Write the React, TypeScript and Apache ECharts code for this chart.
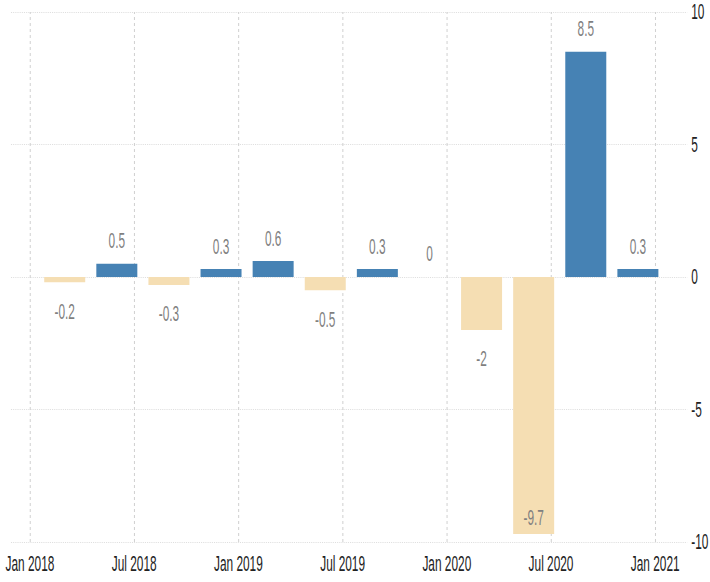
import React, { useEffect, useRef } from "react";
import * as echarts from "echarts";

// Quarterly values (period dates)
const periods = [
  "2018-03", "2018-06", "2018-09", "2018-12",
  "2019-03", "2019-06", "2019-09", "2019-12",
  "2020-03", "2020-06", "2020-09", "2020-12",
];
const values = [-0.2, 0.5, -0.3, 0.3, 0.6, -0.5, 0.3, 0, -2, -9.7, 8.5, 0.3];

// x-axis ticks (months since Jan 2018) and their labels
const tickMonths = [0, 6, 12, 18, 24, 30, 36];
const tickLabels = ["Jan 2018", "Jul 2018", "Jan 2019", "Jul 2019", "Jan 2020", "Jul 2020", "Jan 2021"];

const FINAL_W = 710;
const H = 582;
const W = 1315; // drawn wider, then condensed horizontally
const S = FINAL_W / W;
const px = (x: number) => x / S;

const BLUE = "#4682B4";
const TAN = "#F5DEB3";
const FONT = "'Liberation Sans', Arial, sans-serif";

function monthIndex(p: string) {
  const [y, m] = p.split("-").map(Number);
  return (y - 2018) * 12 + (m - 1);
}

export default function App() {
  const ref = useRef<HTMLDivElement>(null);

  useEffect(() => {
    if (!ref.current) return;
    const chart = echarts.init(ref.current, undefined, { renderer: "svg", width: W, height: H });
    const yMin = -10;
    const data = periods.map((p, i) => {
      const v = values[i];
      const neg = v < 0;
      const nearBottom = v < yMin + 1;
      return {
        value: [monthIndex(p), v],
        itemStyle: { color: neg ? TAN : BLUE },
        label: nearBottom
          ? { position: "insideBottom", distance: 6, color: "#808080" }
          : neg
          ? { position: "bottom", distance: 18 }
          : { position: "top", distance: 12 },
      };
    });

    chart.setOption({
      animation: false,
      grid: { left: px(11), right: px(22), top: 12, bottom: 40, containLabel: false },
      xAxis: {
        type: "value",
        min: -1.093,
        max: 37.84,
        splitLine: { show: false },
        axisLine: { show: false },
        axisTick: { show: false },
        axisLabel: {
          customValues: tickMonths,
          formatter: (v: number) => {
            const i = tickMonths.indexOf(Math.round(v));
            return i >= 0 ? tickLabels[i] : "";
          },
          fontSize: 22,
          fontFamily: FONT,
          color: "#222",
          margin: 11,
        },
      },
      yAxis: {
        type: "value",
        position: "right",
        min: -10,
        max: 10,
        interval: 5,
        axisLine: { show: false },
        axisTick: { show: false },
        splitLine: { lineStyle: { type: [2, 2], color: "#d4d4d4", width: 1 } },
        axisLabel: { fontSize: 22, fontFamily: FONT, color: "#222", margin: px(4) },
      },
      series: [
        {
          type: "bar",
          barWidth: px(41),
          data,
          z: 2,
          label: {
            show: true,
            fontSize: 22,
            fontFamily: FONT,
            color: "#7f7f7f",
            formatter: (p: any) => String(p.value[1]),
          },
          markLine: {
            silent: true,
            symbol: "none",
            z: 1,
            label: { show: false },
            lineStyle: { type: [3, 3], color: "#d0d0d0", width: px(1) },
            data: tickMonths.map((m) => ({ xAxis: m })),
          },
        },
      ],
    });
    return () => chart.dispose();
  }, []);

  return (
    <div style={{ position: "absolute", left: 0, top: 0, width: FINAL_W, height: H, overflow: "hidden", background: "#fff" }}>
      <div
        ref={ref}
        style={{ width: W, height: H, transform: `scaleX(${S})`, transformOrigin: "0 0" }}
      />
    </div>
  );
}
